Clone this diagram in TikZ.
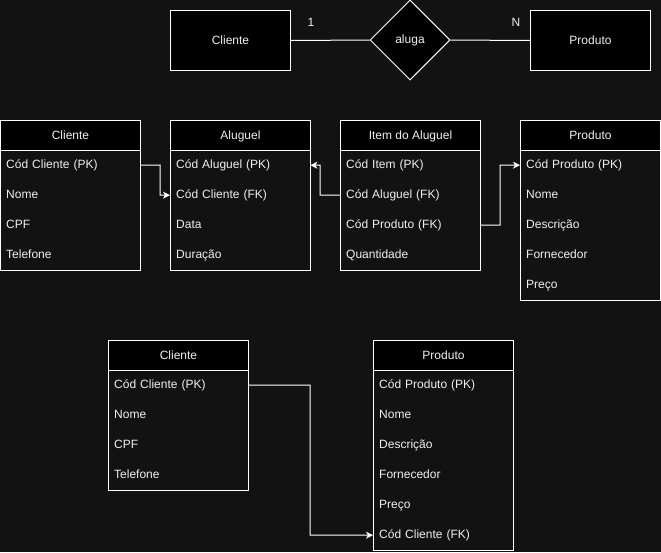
\documentclass[tikz,border=0pt]{standalone}
\usepackage{fontspec}
\setmainfont{Liberation Sans}
\usetikzlibrary{arrows.meta,shapes.geometric}
\definecolor{bg}{RGB}{18,18,18}
\definecolor{ink}{RGB}{240,240,240}
\tikzset{
  every node/.style={font=\fontsize{12pt}{14pt}\selectfont, text=ink},
  entity/.style={draw=white, fill=black, line width=1pt, minimum width=120pt, minimum height=60pt, inner sep=0pt, anchor=north west},
  relation/.style={diamond, draw=white, fill=black, line width=1pt, minimum width=80pt, minimum height=80pt, inner sep=0pt, aspect=1},
  thead/.style={draw=white, fill=black, line width=1pt, minimum width=140pt, minimum height=30pt, inner sep=0pt, text height=10.5pt, text depth=2pt, anchor=north west},
  trow/.style={minimum height=30pt, text width=128pt, inner xsep=6pt, inner ysep=0pt, text height=10pt, text depth=2.5pt, align=left, anchor=north west},
  tframe/.style={draw=white, line width=1pt},
  link/.style={draw=white, line width=1pt, -{Stealth[length=7pt,width=7pt,inset=2pt]}},
  plain/.style={draw=white, line width=1pt},
}
\begin{document}
\begin{tikzpicture}[x=1pt,y=-1pt]
  \fill[bg] (0,0) rectangle (661,552);
  \useasboundingbox (0,0) rectangle (661,552);

  % conceptual model
  \node[entity] (ecli) at (170,10) {Cliente};
  \node[relation] (rel) at (410,40) {aluga};
  \node[entity] (eprod) at (530,10) {Produto};
  \draw[plain] (ecli.east) -- (rel.west);
  \draw[plain] (rel.east) -- (eprod.west);
  \node (card1) at (311,22) {1};
  \node (cardN) at (516,22) {N};

  % Cliente
  \node[thead] (cli-h) at (0,120) {Cliente};
  \node[trow] (cli-1) at (0,150) {Cód Cliente (PK)};
  \node[trow] (cli-2) at (0,180) {Nome};
  \node[trow] (cli-3) at (0,210) {CPF};
  \node[trow] (cli-4) at (0,240) {Telefone};
  \draw[tframe] (cli-h.north west) rectangle (cli-4.south east);

  % Aluguel
  \node[thead] (alu-h) at (170,120) {Aluguel};
  \node[trow] (alu-1) at (170,150) {Cód Aluguel (PK)};
  \node[trow] (alu-2) at (170,180) {Cód Cliente (FK)};
  \node[trow] (alu-3) at (170,210) {Data};
  \node[trow] (alu-4) at (170,240) {Duração};
  \draw[tframe] (alu-h.north west) rectangle (alu-4.south east);

  % Item do Aluguel
  \node[thead] (ite-h) at (340,120) {Item do Aluguel};
  \node[trow] (ite-1) at (340,150) {Cód Item (PK)};
  \node[trow] (ite-2) at (340,180) {Cód Aluguel (FK)};
  \node[trow] (ite-3) at (340,210) {Cód Produto (FK)};
  \node[trow] (ite-4) at (340,240) {Quantidade};
  \draw[tframe] (ite-h.north west) rectangle (ite-4.south east);

  % Produto
  \node[thead] (pro-h) at (520,120) {Produto};
  \node[trow] (pro-1) at (520,150) {Cód Produto (PK)};
  \node[trow] (pro-2) at (520,180) {Nome};
  \node[trow] (pro-3) at (520,210) {Descrição};
  \node[trow] (pro-4) at (520,240) {Fornecedor};
  \node[trow] (pro-5) at (520,270) {Preço};
  \draw[tframe] (pro-h.north west) rectangle (pro-5.south east);

  % foreign keys
  \coordinate (b1) at (160,165);
  \draw[link] (cli-1.east) -- (b1) |- (alu-2.west);
  \coordinate (b2) at (320,195);
  \draw[link] (ite-2.west) -- (b2) |- (alu-1.east);
  \coordinate (b3) at (500,225);
  \draw[link] (ite-3.east) -- (b3) |- (pro-1.west);

  % second variant: Cliente / Produto
  \node[thead] (cl2-h) at (108,340) {Cliente};
  \node[trow] (cl2-1) at (108,370) {Cód Cliente (PK)};
  \node[trow] (cl2-2) at (108,400) {Nome};
  \node[trow] (cl2-3) at (108,430) {CPF};
  \node[trow] (cl2-4) at (108,460) {Telefone};
  \draw[tframe] (cl2-h.north west) rectangle (cl2-4.south east);

  \node[thead] (pr2-h) at (373,340) {Produto};
  \node[trow] (pr2-1) at (373,370) {Cód Produto (PK)};
  \node[trow] (pr2-2) at (373,400) {Nome};
  \node[trow] (pr2-3) at (373,430) {Descrição};
  \node[trow] (pr2-4) at (373,460) {Fornecedor};
  \node[trow] (pr2-5) at (373,490) {Preço};
  \node[trow] (pr2-6) at (373,520) {Cód Cliente (FK)};
  \draw[tframe] (pr2-h.north west) rectangle (pr2-6.south east);

  \coordinate (b4) at (310,385);
  \draw[link] (cl2-1.east) -- (b4) |- (pr2-6.west);
\end{tikzpicture}
\end{document}
